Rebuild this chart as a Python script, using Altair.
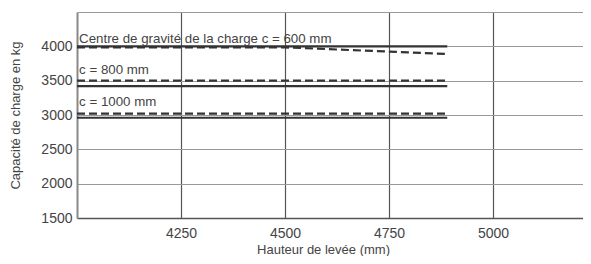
import altair as alt
import pandas as pd

# data
series_names = ["600", "800", "1000"]
solid_x = [[4000, 4890], [4000, 4890], [4000, 4890]]
solid_y = [[4000, 4000], [3420, 3420], [2960, 2960]]
dashed_x = [[4000, 4500, 4890], [4000, 4890], [4000, 4890]]
dashed_y = [[3985, 3985, 3888], [3500, 3500], [3020, 3020]]

label_texts = ["Centre de gravité de la charge c = 600 mm", "c = 800 mm", "c = 1000 mm"]
label_x = [4005, 4005, 4005]
label_y = [4105, 3650, 3188]

x_ticks = [4250, 4500, 4750, 5000]
y_ticks = [1500, 2000, 2500, 3000, 3500, 4000, 4500]

rows = []
for s, xs, ys in zip(series_names, solid_x, solid_y):
    for x, y in zip(xs, ys):
        rows.append({"series": s + "s", "kind": "solid", "x": x, "y": y})
for s, xs, ys in zip(series_names, dashed_x, dashed_y):
    for x, y in zip(xs, ys):
        rows.append({"series": s + "d", "kind": "dashed", "x": x, "y": y})
df = pd.DataFrame(rows)
labels = pd.DataFrame({"t": label_texts, "x": label_x, "y": label_y})

FONT = "Liberation Sans"
xscale = alt.Scale(domain=[4000, 5216.3], nice=False, zero=False)
yscale = alt.Scale(domain=[1500, 4500], nice=False, zero=False)

xaxis = alt.Axis(values=x_ticks, title="Hauteur de levée (mm)", format="d",
                 labelOverlap=False, tickCount=4, titleX=246)
yaxis = alt.Axis(values=y_ticks, title="Capacité de charge en kg", format="d",
                 labelOverlap=False, tickCount=7,
                 labelExpr="datum.value >= 4500 ? '' : datum.label")

lines = alt.Chart(df).mark_line(color="#333", strokeWidth=2.2).encode(
    x=alt.X("x:Q", scale=xscale, axis=xaxis),
    y=alt.Y("y:Q", scale=yscale, axis=yaxis),
    strokeDash=alt.StrokeDash("kind:N", scale=alt.Scale(domain=["solid", "dashed"],
                                                        range=[[1, 0], [8, 4]]), legend=None),
    detail="series:N")

text = alt.Chart(labels).mark_text(align="left", baseline="middle", font=FONT,
                                   fontSize=13.3, color="#444").encode(
    x=alt.X("x:Q", scale=xscale, axis=xaxis),
    y=alt.Y("y:Q", scale=yscale, axis=yaxis),
    text="t:N")

chart = alt.layer(lines, text).properties(
    width=506, height=206,
    autosize=alt.AutoSizeParams(type="none"),
    padding={"left": 69, "top": 4, "right": 0, "bottom": 38},
).configure_view(stroke=None).configure_axis(
    grid=True, ticks=False, labelFont=FONT, titleFont=FONT, labelFontSize=14,
    titleFontSize=13, labelColor="#444", titleColor="#444", titleFontWeight="normal",
    labelOverlap=False, labelFlush=False
).configure_axisX(
    gridColor="#555", gridWidth=1.2, domainColor="#555", domainWidth=1.5,
    labelPadding=8, titlePadding=3
).configure_axisY(
    gridColor="#999", gridWidth=1.2, domainColor="#888", domainWidth=2,
    labelPadding=5, titlePadding=18
)

chart.save("out.html", embed_options={"renderer": "svg", "actions": False})
